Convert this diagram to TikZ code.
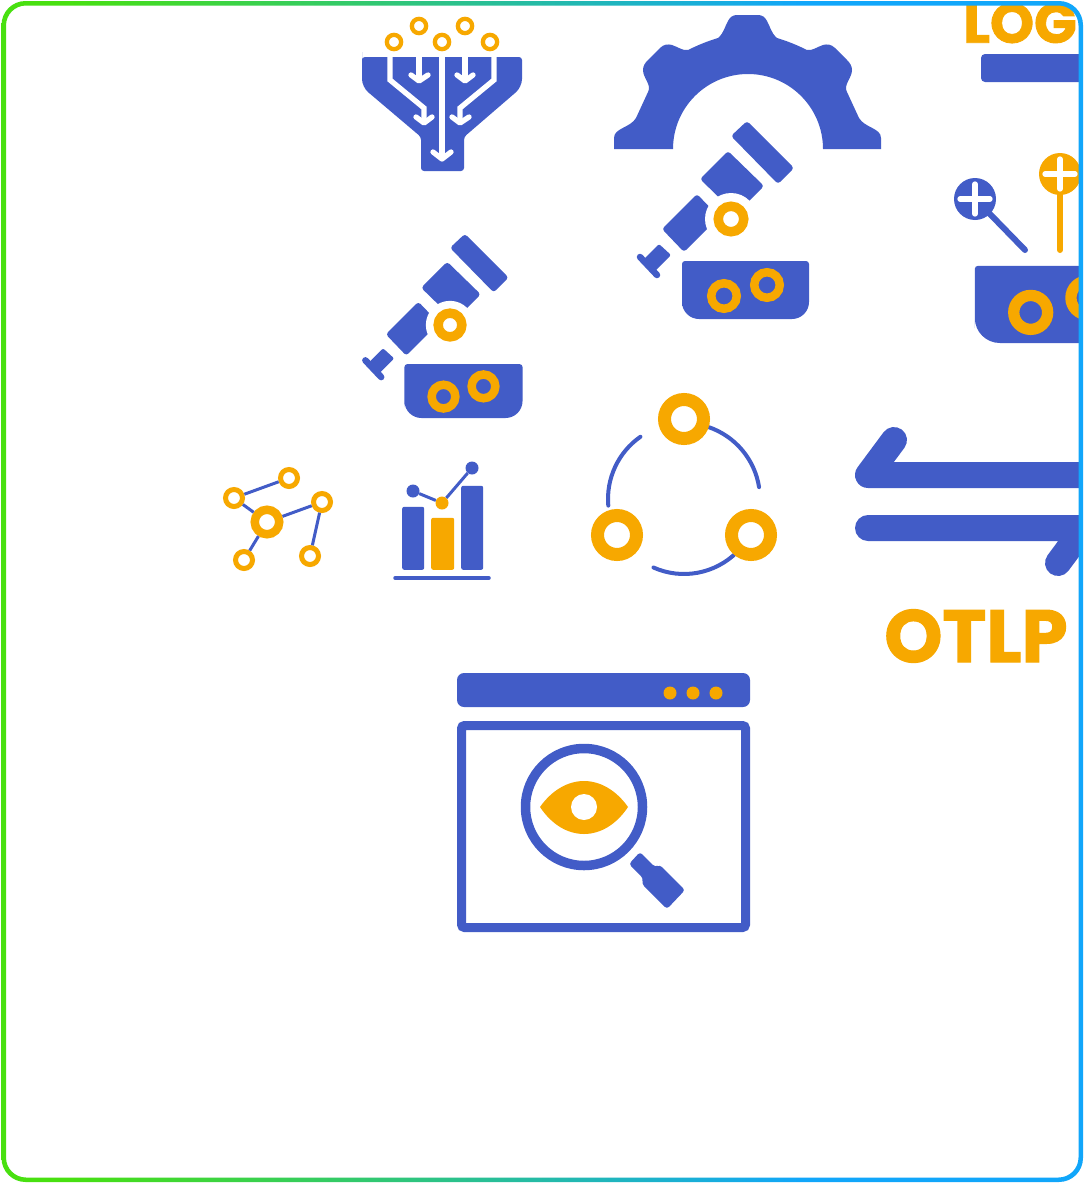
\documentclass[tikz,border=0pt]{standalone}
\usepackage{fontspec}
\usepackage{tikz}
\usetikzlibrary{positioning}
\newfontfamily\logofont[BoldFeatures={FakeBold=1.5}]{Poppins}

\definecolor{iconblue}{HTML}{425CC7}
\definecolor{iconorange}{HTML}{F7A800}
\definecolor{edgegreen}{HTML}{48E010}
\definecolor{edgeblue}{HTML}{11A6FA}
\pgfdeclarehorizontalshading{framefade}{100bp}{color(0bp)=(edgegreen); color(28bp)=(edgegreen); color(62bp)=(edgeblue); color(100bp)=(edgeblue)}

\newcommand{\traybody}[2]{
  \fill[iconblue] (-49,70) [rounded corners=3pt] -- (-49,42) -- (78,42) -- (78,70)
    [rounded corners=#1] -- (78,100) -- (-49,100) -- cycle;
  \node[ringnode,fill=iconblue,minimum size=25.5pt,line width=#2] (ringa) at (-7,77) {};
  \node[ringnode,fill=iconblue,minimum size=25.5pt,line width=#2] (ringb) at (36,66) {};
}

\tikzset{
  ringnode/.style={circle,draw=iconorange,fill=white,inner sep=0pt,transform shape},
  funnelring/.style={ringnode,minimum size=14.3pt,line width=4.3pt},
  netring/.style={ringnode,minimum size=17pt,line width=5pt},
  hubring/.style={ringnode,minimum size=24.5pt,line width=8.5pt},
  cyclering/.style={ringnode,minimum size=39pt,line width=13pt},
  jointring/.style={ringnode,minimum size=25.5pt,line width=9.5pt},
  dotnode/.style={circle,fill=iconblue,inner sep=0pt,minimum size=13pt},
  barnode/.style={fill=iconblue,inner sep=0pt,rounded corners=2pt,anchor=south west},
  whiteline/.style={draw=white,line width=5.3pt,line cap=round,line join=round},
  swapline/.style={draw=iconblue,line width=26pt,line cap=round,line join=round},
  netedge/.style={draw=iconblue,line width=3pt},
  logotext/.style={text=iconorange,inner sep=0pt,font=\logofont\bfseries\fontsize{74}{74}\selectfont},
  traybase/.pic={
    \traybody{25pt}{11.3pt}
  },
  robotarm/.pic={
    \fill[iconblue,rounded corners=3pt] (0,-83) -- (16,-98) -- (63,-51) -- (47,-35) -- cycle;
    \fill[iconblue,rounded corners=3pt] (-3,-68) -- (33,-33) -- (5,-5) -- (-31,-40) -- cycle;
    \fill[iconblue,rounded corners=3pt] (-34,-25) -- (-69,10) -- (-47,33) -- (-12,-2) -- cycle;
    \fill[white] (0,0) circle (26);
    \fill[iconblue,rounded corners=2pt] (-72,25) -- (-60,36) -- (-76,52) -- (-87,40) -- cycle;
    \draw[iconblue,line width=6.5pt,line cap=round] (-91,38) -- (-74,56);
    \node[jointring] (joint) at (0,0) {};
    \traybody{17pt}{8.5pt}
  }
}

\begin{document}
\begin{tikzpicture}[x=1pt,y=-1pt]
  \useasboundingbox (0,0) rectangle (1084,1183);
  \fill[white] (0,0) rectangle (1084,1183);

  \begin{scope}
    \clip[rounded corners=22pt] (3.5,3) rectangle (1081,1180);

    %Funnel
    \fill[iconblue] (362,60) [rounded corners=3pt] -- (362,57) -- (522,57) [rounded corners=8pt] -- (522,87)
      [rounded corners=3pt] -- (464,137) -- (464,171) -- (421,171) -- (421,137) [rounded corners=8pt]
      -- (362,87) -- cycle;
    \draw[whiteline,line cap=butt] (442,57) -- (442,157);
    \draw[whiteline] (433,152) -- (442,159) -- (451,152);
    \draw[whiteline,line cap=butt] (419,57) -- (419,80);
    \draw[whiteline] (411,75) -- (419,81) -- (428,75);
    \draw[whiteline,line cap=butt] (465,57) -- (465,80);
    \draw[whiteline] (457,75) -- (465,81) -- (473,75);
    \draw[whiteline,line cap=butt,line join=miter] (390,57) -- (390,80) -- (424,108) -- (424,122);
    \draw[whiteline] (416,117) -- (424,123) -- (432,117);
    \draw[whiteline,line cap=butt,line join=miter] (494,57) -- (494,80) -- (460,108) -- (460,122);
    \draw[whiteline] (452,117) -- (460,123) -- (469,117);
    \node[funnelring] (drop1) at (394,42) {};
    \node[funnelring] (drop2) at (419,26) {};
    \node[funnelring] (drop3) at (442,42) {};
    \node[funnelring] (drop4) at (465,26) {};
    \node[funnelring] (drop5) at (490,42) {};

    %Gear
    \fill[iconblue] (614,149) -- (614,138) .. controls (614,128) and (630,128) .. (636,118)
      -- (648,92) .. controls (652,85) and (643,78) .. (643,70)
      .. controls (643,66) and (645,63) .. (648,60) -- (660,48) .. controls (664,44) and (668,44) .. (672,45)
      .. controls (678,47) and (683,51) .. (688,50) .. controls (698,45) and (708,41) .. (718,38)
      .. controls (724,33) and (725,26) .. (728,21) .. controls (730,17) and (733,15) .. (737,15)
      -- (758,15) .. controls (762,15) and (765,17) .. (767,21) .. controls (770,26) and (771,33) .. (777,38)
      .. controls (787,41) and (797,45) .. (807,50) .. controls (812,51) and (817,47) .. (823,45)
      .. controls (827,44) and (831,44) .. (835,48) -- (847,60) .. controls (850,63) and (852,66) .. (852,70)
      .. controls (852,78) and (843,85) .. (847,92) -- (859,118) .. controls (865,128) and (881,128) .. (881,138)
      -- (881,149) -- (823,149) arc[start angle=0,end angle=-180,radius=75] -- cycle;

    %Arms
    \pic (armtop) at (731,219) {robotarm};
    \pic[scale=.93] (armleft) at (450,325) {robotarm};

    %Log box
    \node[logotext,font=\logofont\bfseries\fontsize{56}{56}\selectfont] (log) at (1020,23) {LOG};
    \fill[iconblue,rounded corners=4pt] (1100,54) -- (981,54) -- (981,82) -- (1100,82);
    \fill[iconblue] (975,199) circle (21);
    \draw[iconblue,line width=6pt,line cap=round] (988,212) -- (1025,250);
    \draw[whiteline] (960,199) -- (990,199);
    \draw[whiteline] (975,184) -- (975,214);
    \fill[iconorange] (1060,174) circle (21);
    \draw[iconorange,line width=6pt,line cap=round] (1060,190) -- (1060,250);
    \draw[whiteline] (1045,174) -- (1075,174);
    \draw[whiteline] (1060,159) -- (1060,189);
    \pic[scale=1.33] (traylog) at (1040,210) {traybase};

    %Graph
    \node[netring] (netb) at (234,498) {};
    \node[netring] (nett) at (289,478) {};
    \node[netring] (netr) at (322,502) {};
    \node[hubring] (hub) at (267,522) {};
    \node[netring] (netl) at (244,560) {};
    \node[netring] (netd) at (310,556) {};
    \path[netedge] (netb) edge (nett) edge (hub);
    \path[netedge] (hub) edge (netr) edge (netl);
    \path[netedge] (netr) edge (netd);

    %Chart
    \node[barnode,minimum width=22pt,minimum height=63pt] (bara) at (402,570) {};
    \node[barnode,fill=iconorange,minimum width=23pt,minimum height=52pt] (barb) at (431,570) {};
    \node[barnode,minimum width=22pt,minimum height=84pt] (barc) at (461,570) {};
    \draw[iconblue,line width=3.5pt,line cap=round] (395,578) -- (489,578);
    \node[dotnode] (dota) at (413,491) {};
    \node[dotnode,fill=iconorange] (dotb) at (442,503) {};
    \node[dotnode] (dotc) at (472,468) {};
    \draw[iconblue,line width=3pt] (dota) -- (dotb) -- (dotc);

    %Cycle
    \coordinate (cyclemid) at (684,499);
    \draw[iconblue,line width=4pt,line cap=round] ([shift={(-71:76)}]cyclemid) arc[start angle=-71,end angle=-9,radius=76];
    \draw[iconblue,line width=4pt,line cap=round] ([shift={(-125:76)}]cyclemid) arc[start angle=-125,end angle=-185,radius=76];
    \draw[iconblue,line width=4pt,line cap=round] ([shift={(114:75)}]cyclemid) arc[start angle=114,end angle=45,radius=75];
    \node[cyclering] (cycletop) at (684,419) {};
    \node[cyclering] (cycleleft) at (617,535) {};
    \node[cyclering] (cycleright) at (751,535) {};

    %Swap arrows
    \draw[swapline] (1100,475) -- (868,475) -- (894,440);
    \draw[swapline] (868,528) -- (1084,528) -- (1058,563);
    \node[logotext] (otlp) at (976,636) {OTLP};

    %Browser
    \fill[iconblue,rounded corners=7pt] (457,673) rectangle (750,707);
    \fill[iconorange] (670,693) circle (6.5);
    \fill[iconorange] (693,693) circle (6.5);
    \fill[iconorange] (716,693) circle (6.5);
    \draw[iconblue,line width=9pt,rounded corners=3pt] (461.5,725.5) rectangle (745.5,927.5);
    \draw[iconblue,line width=9.5pt] (584,807) circle (58.5);
    \fill[iconorange] (540,807) .. controls (552,790) and (568,781) .. (584,781)
      .. controls (600,781) and (616,790) .. (628,807)
      .. controls (616,825) and (600,834) .. (584,834)
      .. controls (568,834) and (552,825) .. (540,807) -- cycle;
    \fill[white] (584,807) circle (13);
    \fill[iconblue,rounded corners=3pt] (640,852) -- (655,867) -- (660,865) -- (685,890) -- (667,909)
      -- (642,884) -- (643,878) -- (629,864) -- cycle;
  \end{scope}

  %Frame
  \path[even odd rule,shading=framefade]
    [rounded corners=24pt] (1.5,1) rectangle (1083,1182)
    [rounded corners=20pt] (6,5.5) rectangle (1078.5,1177.5);
\end{tikzpicture}
\end{document}
